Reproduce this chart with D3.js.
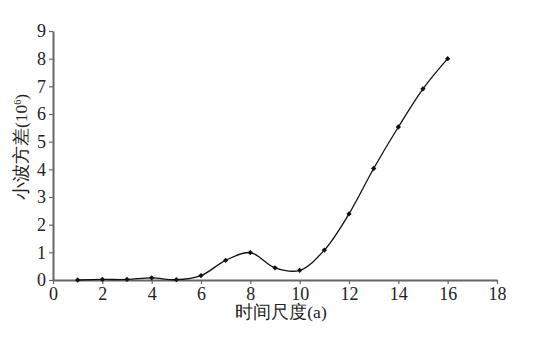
<!DOCTYPE html>
<html><head><meta charset="utf-8">
<script src="https://cdn.jsdelivr.net/npm/d3@7"></script>
</head>
<body style="margin:0;background:#fff">
<svg id="c" width="538" height="342"></svg>
<script>
const scales = [1,2,3,4,5,6,7,8,9,10,11,12,13,14,15,16];
const variance = [0.0,0.02,0.02,0.08,0.01,0.16,0.71,0.99,0.44,0.35,1.08,2.39,4.03,5.53,6.91,8.0];
const xTicks = [0,2,4,6,8,10,12,14,16,18];
const yTicks = [0,1,2,3,4,5,6,7,8,9];
const xTitle = "时间尺度(a)";
const yTitle = "小波方差(10";

const SERIF = '"Liberation Serif"';
const svg = d3.select("#c");
const x = d3.scaleLinear().domain([0,18]).range([53,497]);
const y = d3.scaleLinear().domain([0,9]).range([280,31]);
const axisColor = "#666";

const gx = svg.append("g").attr("transform","translate(0,280)")
  .call(d3.axisBottom(x).tickValues(xTicks).tickSize(4).tickSizeOuter(0).tickPadding(3));
const gy = svg.append("g").attr("transform","translate(53,0)")
  .call(d3.axisLeft(y).tickValues(yTicks).tickSize(4).tickSizeOuter(0).tickPadding(3));
[gx,gy].forEach(g=>{
  g.select(".domain").attr("stroke",axisColor).attr("stroke-width",2);
  g.selectAll(".tick line").attr("stroke",axisColor).attr("stroke-width",1.2);
  g.selectAll(".tick text").attr("fill","#222")
    .style("font-family",SERIF).style("font-size","18px");
});

const line = d3.line().x((d,i)=>x(scales[i])).y(d=>y(d)).curve(d3.curveCatmullRom.alpha(0.5));
svg.append("path").datum(variance).attr("d",line)
  .attr("fill","none").attr("stroke","#111").attr("stroke-width",1.3);

svg.selectAll("path.pt").data(variance).enter().append("path").attr("class","pt")
  .attr("d",d3.symbol().type(d3.symbolSquare).size(14))
  .attr("transform",(d,i)=>`translate(${x(scales[i])},${y(d)}) rotate(45)`)
  .attr("fill","#111");

svg.append("text").attr("x",281).attr("y",318)
  .attr("text-anchor","middle").style("font-family",SERIF).style("font-size","17.5px")
  .attr("fill","#222").text(xTitle);

const yt = svg.append("text")
  .attr("transform","translate(27,147) rotate(-90)")
  .attr("text-anchor","middle").style("font-family",SERIF).style("font-size","17.5px").attr("fill","#222");
yt.append("tspan").text(yTitle);
yt.append("tspan").attr("dy",-6).style("font-size","10px").text("6");
yt.append("tspan").attr("dy",6).text(")");
</script></body></html>
